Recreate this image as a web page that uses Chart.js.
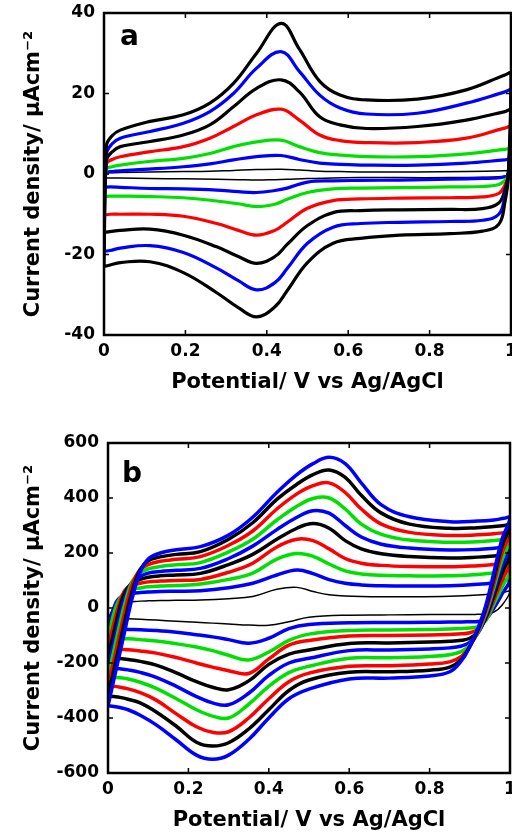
<!DOCTYPE html>
<html lang="en">
  <head>
    <meta charset="UTF-8" />
    <script src="https://cdn.jsdelivr.net/npm/chart.js"></script>
    <title>Cyclic voltammograms</title>
    <style>
      html, body { margin: 0; padding: 0; background: #fff; }
      .panel { position: absolute; left: 0; }
    </style>
  </head>
  <body>
    <canvas id="chartA" class="panel" width="512" height="400" style="top: 0px;"></canvas>
    <canvas id="chartB" class="panel" width="512" height="420" style="top: 418px;"></canvas>
    <script>
      // ---- panel a : potentials (V) for the forward and the reverse sweep ----
      const potAFwd = [0, 0.006, 0.02, 0.04, 0.11, 0.195, 0.26, 0.318, 0.375, 0.435, 0.48, 0.53, 0.58, 0.645, 0.77, 0.89, 0.985, 1];
      const potARev = [0.993, 0.985, 0.97, 0.93, 0.85, 0.727, 0.63, 0.563, 0.5, 0.45, 0.42, 0.375, 0.33, 0.277, 0.195, 0.113, 0.04, 0.015, 0];

      // current density (uA cm-2), smallest scan rate first
      const a1Fwd = [-1, 0.2, 0.3, 0.4, 0.5, 0.6, 0.7, 0.9, 1.1, 1.2, 1.0, 0.7, 0.6, 0.5, 0.5, 0.6, 0.8, 0.8];
      const a1Rev = [-0.2, -0.5, -0.7, -0.8, -0.9, -0.9, -0.9, -1.0, -1.1, -1.3, -1.4, -1.5, -1.4, -1.3, -1.2, -1.1, -1.0, -1.0, -1.0];
      const a2Fwd = [-3.2, 0.3, 0.6, 0.8, 1.2, 1.8, 2.5, 3.5, 4.3, 4.6, 3.6, 2.7, 2.4, 2.2, 2.2, 2.7, 3.5, 3.6];
      const a2Rev = [-0.3, -0.7, -1.0, -1.1, -1.3, -1.5, -1.6, -1.7, -2.0, -3.5, -4.1, -4.6, -4.4, -4.0, -3.7, -3.6, -3.3, -3.2, -3.3];
      const a3Fwd = [-5.5, 1.2, 1.8, 2.2, 3.1, 3.9, 5.1, 6.8, 8.0, 8.4, 6.8, 5.3, 4.7, 4.3, 4.3, 5.0, 6.1, 6.2];
      const a3Rev = [-0.4, -1.6, -2.6, -3.1, -3.2, -3.4, -3.5, -3.7, -4.6, -6.3, -7.5, -8.1, -7.4, -6.7, -5.9, -5.6, -5.5, -5.5, -5.6];
      const a4Fwd = [-10, 2.5, 3.6, 4.3, 5.5, 6.8, 8.9, 11.8, 14.7, 16.1, 13.4, 9.7, 8.3, 7.8, 7.8, 8.9, 11.4, 11.6];
      const a4Rev = [-0.5, -2.8, -4.8, -5.7, -5.9, -6.0, -6.2, -6.6, -8.5, -12, -14, -15.2, -14, -12.3, -10.5, -10.0, -10.0, -10.0, -10.2];
      const a5Fwd = [-14.5, 3.5, 5.5, 6.8, 8.0, 9.7, 12.2, 16.7, 21.3, 23.4, 20.4, 14.2, 12.2, 11.3, 11.8, 13.4, 15.5, 15.8];
      const a5Rev = [-0.6, -4, -7.2, -8.6, -8.8, -8.9, -9.1, -9.6, -12.8, -17.5, -20.5, -22.2, -20.5, -18.1, -15.2, -13.7, -14.0, -14.3, -14.5];
      const a6Fwd = [-19, 5, 7.5, 8.9, 10.5, 12.6, 15.5, 20, 26.3, 30.4, 25.5, 19.6, 16.4, 14.9, 15.1, 17.6, 20.4, 20.8];
      const a6Rev = [-0.8, -5.5, -10, -11.5, -11.8, -12.0, -12.3, -13.2, -17.2, -23.5, -27, -28.8, -26.5, -23.4, -19.5, -17.8, -18.4, -19.0, -19.2];
      const a7Fwd = [-23, 7, 9.5, 10.9, 13, 14.7, 17.6, 22.5, 30, 37.4, 31, 23, 19.6, 18.4, 18.6, 20.9, 24.6, 25];
      const a7Rev = [-1, -7, -12.5, -14.2, -14.8, -15.2, -16, -17.2, -22, -29, -33, -35.5, -33.2, -29.5, -24.5, -21.8, -22, -22.6, -23];

      // ---- panel b ----
      const potBFwd = [0, 0.02, 0.04, 0.06, 0.08, 0.1, 0.13, 0.17, 0.23, 0.3, 0.36, 0.42, 0.47, 0.51, 0.55, 0.59, 0.63, 0.68, 0.75, 0.85, 0.92, 0.96, 0.985, 1];
      const potBRev = [0.98, 0.96, 0.94, 0.92, 0.9, 0.88, 0.85, 0.8, 0.7, 0.6, 0.5, 0.45, 0.4, 0.35, 0.3, 0.26, 0.22, 0.17, 0.12, 0.08, 0.05, 0.03, 0.015, 0];

      const b1Fwd = [-40, 15, 21, 23, 25, 26, 27, 28, 29, 34, 42, 68, 75, 60, 48, 44, 42, 41, 41, 43, 47, 52, 58, 60];
      const b1Rev = [10, -15, -22, -23, -24, -24, -24, -24, -25, -26, -34, -50, -63, -62, -58, -55, -52, -48, -44, -41, -39, -38, -38, -40];
      const b2Fwd = [-77, 20, 48, 53, 56, 58, 60, 61, 63, 74, 90, 120, 138, 125, 103, 90, 84, 81, 80, 81, 86, 92, 100, 102];
      const b2Rev = [50, 0, -40, -49, -50, -51, -51, -52, -53, -54, -60, -75, -110, -128, -115, -105, -97, -88, -82, -79, -78, -77, -77, -77];
      const b3Fwd = [-110, 5, 55, 68, 73, 77, 80, 82, 87, 104, 127, 178, 198, 188, 160, 135, 124, 119, 117, 117, 122, 127, 132, 133];
      const b3Rev = [75, 15, -45, -68, -73, -75, -76, -78, -80, -82, -95, -118, -160, -189, -172, -155, -142, -130, -120, -115, -112, -111, -110, -110];
      const b4Fwd = [-150, -25, 60, 83, 90, 95, 98, 100, 104, 130, 163, 222, 250, 245, 215, 180, 163, 155, 151, 150, 154, 158, 162, 163];
      const b4Rev = [100, 30, -40, -78, -90, -94, -96, -98, -100, -102, -118, -135, -185, -238, -228, -215, -200, -180, -164, -156, -152, -151, -150, -150];
      const b5Fwd = [-183, -55, 50, 92, 104, 112, 117, 120, 126, 158, 195, 250, 290, 307, 290, 245, 215, 197, 187, 182, 185, 189, 193, 194];
      const b5Rev = [125, 45, -35, -88, -110, -117, -121, -124, -127, -129, -153, -168, -205, -265, -297, -288, -268, -236, -208, -194, -187, -184, -183, -183];
      const b6Fwd = [-219, -90, 30, 95, 115, 127, 133, 137, 144, 180, 225, 285, 330, 354, 345, 300, 258, 232, 218, 211, 213, 217, 221, 222];
      const b6Rev = [150, 60, -30, -92, -125, -138, -145, -149, -153, -155, -183, -200, -245, -310, -352, -345, -322, -285, -252, -234, -225, -221, -219, -219];
      const b7Fwd = [-252, -120, 5, 95, 128, 142, 151, 157, 165, 204, 250, 320, 370, 398, 400, 360, 305, 268, 247, 239, 241, 245, 249, 250];
      const b7Rev = [175, 75, -20, -90, -135, -158, -170, -176, -181, -183, -212, -235, -285, -350, -400, -393, -370, -330, -292, -270, -258, -254, -252, -252];
      const b8Fwd = [-284, -155, -25, 85, 140, 158, 170, 177, 187, 228, 280, 360, 415, 445, 455, 420, 360, 305, 275, 264, 266, 270, 274, 276];
      const b8Rev = [200, 90, -10, -85, -140, -175, -196, -204, -210, -212, -237, -268, -330, -400, -450, -452, -432, -385, -335, -308, -294, -288, -285, -284];
      const b9Fwd = [-320, -190, -60, 60, 140, 172, 186, 195, 205, 250, 310, 395, 450, 485, 502, 475, 410, 345, 305, 290, 292, 296, 300, 302];
      const b9Rev = [225, 110, 0, -80, -140, -185, -215, -226, -232, -234, -262, -300, -370, -440, -490, -502, -488, -430, -378, -345, -332, -325, -322, -320];
      const b10Fwd = [-356, -225, -95, 35, 130, 178, 200, 212, 223, 265, 330, 420, 485, 525, 548, 525, 455, 375, 332, 314, 316, 320, 326, 328];
      const b10Rev = [250, 130, 10, -75, -140, -190, -232, -247, -255, -258, -295, -330, -400, -478, -535, -550, -535, -480, -425, -390, -370, -362, -358, -356];

      const BLACK = '#000000', BLUE = '#0000ff', GREEN = '#00e000', RED = '#ff0000';
      const FONT = '"DejaVu Sans", "Liberation Sans", sans-serif';

      // one closed loop: forward sweep then reverse sweep
      function loop(potF, fwd, potR, rev) {
        const pts = fwd.map((v, i) => ({ x: potF[i], y: v }));
        return pts.concat(rev.map((v, i) => ({ x: potR[i], y: v })));
      }

      function curve(data, color, width) {
        return {
          data: data,
          showLine: true,
          borderColor: color,
          borderWidth: width,
          pointRadius: 0,
          tension: 0.4,
          fill: false
        };
      }

      // frame with inward ticks, plus the panel letter
      const framePlugin = {
        id: 'frame',
        afterDraw(chart, args, opts) {
          const { ctx, chartArea: a, scales } = chart;
          ctx.save();
          ctx.strokeStyle = '#000';
          ctx.lineWidth = 1.5;
          ctx.beginPath();
          scales.x.ticks.forEach(t => {
            const px = scales.x.getPixelForValue(t.value);
            ctx.moveTo(px, a.bottom); ctx.lineTo(px, a.bottom - 5);
            ctx.moveTo(px, a.top); ctx.lineTo(px, a.top + 5);
          });
          scales.y.ticks.forEach(t => {
            const py = scales.y.getPixelForValue(t.value);
            ctx.moveTo(a.left, py); ctx.lineTo(a.left + 5, py);
            ctx.moveTo(a.right, py); ctx.lineTo(a.right - 5, py);
          });
          ctx.stroke();
          ctx.lineWidth = 2.5;
          ctx.strokeRect(a.left, a.top, a.right - a.left, a.bottom - a.top);
          ctx.fillStyle = '#000';
          ctx.font = 'bold 28px ' + FONT;
          ctx.textBaseline = 'alphabetic';
          ctx.fillText(opts.label, opts.lx, opts.ly);
          ctx.restore();
        }
      };

      function makeChart(id, datasets, yMin, yMax, yStep, yWidth, pad, label, lx, ly) {
        return new Chart(document.getElementById(id), {
          type: 'scatter',
          data: { datasets: datasets },
          plugins: [framePlugin],
          options: {
            responsive: false,
            animation: false,
            devicePixelRatio: 1,
            layout: { padding: pad },
            plugins: {
              legend: { display: false },
              tooltip: { enabled: false },
              frame: { label: label, lx: lx, ly: ly }
            },
            scales: {
              x: {
                type: 'linear', min: 0, max: 1,
                grid: { display: false, drawTicks: false },
                border: { display: false },
                ticks: { stepSize: 0.2, padding: 6, color: '#000', font: { family: FONT, size: 17, weight: 'bold' },
                  callback: v => String(Math.round(v * 10) / 10) },
                title: { display: true, text: 'Potential/ V vs Ag/AgCl', color: '#000', padding: { bottom: 5, top: 0 },
                  font: { family: FONT, size: 21, weight: 'bold' } },
                afterFit(s) { s.height = 65; s.paddingLeft = 0; s.paddingRight = 0; }
              },
              y: {
                type: 'linear', min: yMin, max: yMax,
                grid: { display: false, drawTicks: false },
                border: { display: false },
                ticks: { stepSize: yStep, padding: 9, color: '#000', font: { family: FONT, size: 17, weight: 'bold' } },
                title: { display: true, text: 'Current density/ μAcm⁻²', color: '#000', padding: { top: 21, bottom: 0 },
                  font: { family: FONT, size: 21, weight: 'bold' } },
                afterFit(s) { s.width = yWidth; s.paddingTop = 0; s.paddingBottom = 0; }
              }
            }
          }
        });
      }

      const dsA = [
        curve(loop(potAFwd, a7Fwd, potARev, a7Rev), BLACK, 3.2),
        curve(loop(potAFwd, a6Fwd, potARev, a6Rev), BLUE, 3.2),
        curve(loop(potAFwd, a5Fwd, potARev, a5Rev), BLACK, 3.2),
        curve(loop(potAFwd, a4Fwd, potARev, a4Rev), RED, 3.2),
        curve(loop(potAFwd, a3Fwd, potARev, a3Rev), GREEN, 3.2),
        curve(loop(potAFwd, a2Fwd, potARev, a2Rev), BLUE, 3.2),
        curve(loop(potAFwd, a1Fwd, potARev, a1Rev), BLACK, 1.5)
      ];

      const dsB = [
        curve(loop(potBFwd, b10Fwd, potBRev, b10Rev), BLUE, 3.5),
        curve(loop(potBFwd, b9Fwd, potBRev, b9Rev), BLACK, 3.5),
        curve(loop(potBFwd, b8Fwd, potBRev, b8Rev), RED, 3.5),
        curve(loop(potBFwd, b7Fwd, potBRev, b7Rev), GREEN, 3.5),
        curve(loop(potBFwd, b6Fwd, potBRev, b6Rev), BLUE, 3.5),
        curve(loop(potBFwd, b5Fwd, potBRev, b5Rev), BLACK, 3.5),
        curve(loop(potBFwd, b4Fwd, potBRev, b4Rev), RED, 3.5),
        curve(loop(potBFwd, b3Fwd, potBRev, b3Rev), GREEN, 3.5),
        curve(loop(potBFwd, b2Fwd, potBRev, b2Rev), BLUE, 3.5),
        curve(loop(potBFwd, b1Fwd, potBRev, b1Rev), BLACK, 1.5)
      ];

      makeChart('chartA', dsA, -40, 40, 20, 104, { top: 13, right: 1, left: 0, bottom: 0 }, 'a', 120, 45);
      makeChart('chartB', dsB, -600, 600, 200, 108, { top: 25, right: 2, left: 0, bottom: 0 }, 'b', 122, 64);
    </script>
  </body>
</html>
